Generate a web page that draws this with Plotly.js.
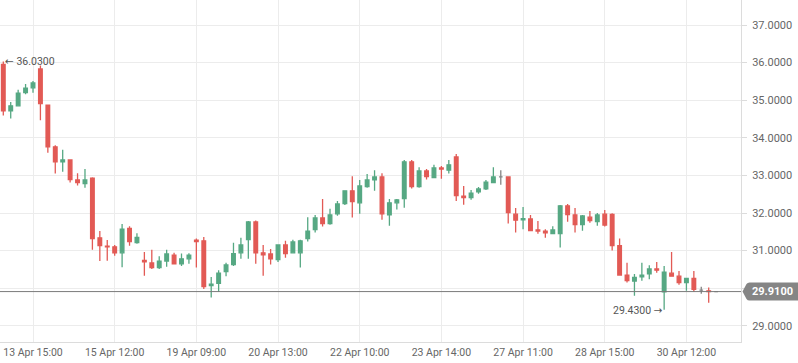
<!DOCTYPE html>
<html><head><meta charset="utf-8">
<script src="https://cdn.plot.ly/plotly-3.0.1.min.js"></script>
<style>html,body{margin:0;padding:0;background:#fff}#chart{width:798px;height:363px}</style>
</head><body><div id="chart"></div>
<script>
const opens =[35.95,34.72,34.85,35.20,35.33,35.83,34.87,33.76,33.36,33.41,32.88,32.78,32.93,31.34,31.12,31.10,30.94,31.59,31.21,30.74,30.67,30.55,30.72,30.88,30.65,30.78,31.28,31.26,30.07,30.13,30.44,30.63,30.94,31.29,31.76,30.94,30.91,30.76,31.15,30.94,30.94,31.32,31.56,31.87,31.72,31.98,32.25,32.59,32.27,32.70,32.88,32.96,31.95,32.27,32.38,33.36,32.70,33.12,32.94,33.20,33.14,33.49,32.45,32.41,32.56,32.64,32.81,32.96,32.96,31.97,31.82,31.84,31.55,31.52,31.45,31.45,32.19,31.95,31.69,31.89,31.77,31.97,31.96,31.13,30.35,30.19,30.30,30.38,30.51,29.90,30.40,30.32,30.15,30.26,29.95,29.93,29.91];
const highs =[36.03,34.95,35.28,35.43,35.51,35.92,34.88,33.80,33.68,33.42,33.06,33.17,32.95,31.52,31.28,31.15,31.71,31.65,31.46,30.96,31.02,30.85,31.02,30.94,30.92,30.93,31.32,31.36,30.30,30.48,30.68,31.21,31.34,31.79,31.80,31.15,31.04,31.17,31.26,31.29,31.29,31.89,31.95,32.37,32.11,32.32,32.60,32.98,32.88,33.04,33.14,33.06,32.37,32.37,33.41,33.41,33.22,33.17,33.28,33.25,33.41,33.57,32.72,32.61,32.69,32.88,33.22,33.14,32.97,32.13,32.16,31.95,31.79,31.57,31.65,32.21,32.24,32.13,31.95,32.05,32.00,32.08,31.99,31.32,30.68,30.38,30.68,30.61,30.70,30.59,30.96,30.46,30.27,30.46,30.04,30.02,29.91];
const lows  =[34.59,34.51,34.84,35.16,35.20,34.47,33.60,33.05,33.10,32.81,32.73,32.67,31.02,30.72,30.73,30.86,30.56,31.13,31.18,30.33,30.51,30.51,30.57,30.64,30.59,30.65,30.55,29.98,29.75,29.90,30.32,30.59,30.78,30.78,30.65,30.33,30.63,30.70,30.81,30.93,30.55,31.24,31.48,31.64,31.69,31.93,32.21,31.88,31.98,32.67,32.59,31.82,31.66,32.09,32.14,32.65,32.67,32.89,32.93,32.91,33.05,32.32,32.22,32.35,32.51,32.61,32.80,32.75,31.72,31.48,31.57,31.52,31.45,31.34,31.44,31.08,31.77,31.48,31.53,31.74,31.66,31.64,31.00,30.34,30.15,29.80,30.20,30.24,30.41,29.43,30.31,30.09,29.93,29.90,29.85,29.61,29.91];
const closes=[34.72,34.85,35.19,35.32,35.46,34.91,33.76,33.36,33.41,32.89,32.81,32.88,31.32,31.13,31.10,30.94,31.57,31.24,31.35,30.70,30.55,30.72,30.91,30.65,30.78,30.88,31.24,30.04,30.11,30.40,30.62,30.92,31.15,31.76,30.94,30.89,30.78,31.15,30.92,31.23,31.26,31.52,31.87,31.72,31.95,32.24,32.59,32.30,32.72,32.88,32.96,31.98,32.27,32.35,33.36,32.70,33.12,32.97,33.20,33.17,33.28,32.46,32.41,32.53,32.64,32.82,32.96,32.96,32.01,31.81,31.85,31.53,31.52,31.47,31.55,32.19,31.96,31.69,31.92,31.80,31.95,31.68,31.13,30.35,30.20,30.29,30.35,30.51,30.48,30.43,30.32,30.15,30.26,29.97,29.95,29.91,29.91];

const tickIdx   =[4,15,26,37,48,59,70,81,92];
const tickLabels=['13 Apr 15:00','15 Apr 12:00','19 Apr 09:00','20 Apr 13:00','22 Apr 10:00','23 Apr 14:00','27 Apr 11:00','28 Apr 15:00','30 Apr 12:00'];
const yTicks    =[29,30,31,32,33,34,35,36,37];

const GREEN='#56a883', RED='#e25a55', GREY='#858585', TXT='#666666', GRID='#ececec';
const idx = opens.map((_,i)=>i);
const isDoji = i => opens[i]===closes[i];
const sel = (arr,f)=>idx.filter(f).map(i=>arr[i]);
const notD = i=>!isDoji(i);

const main = {type:'candlestick', x:idx.filter(notD), open:sel(opens,notD), high:sel(highs,notD), low:sel(lows,notD), close:sel(closes,notD),
  increasing:{line:{color:GREEN,width:1.3},fillcolor:GREEN}, decreasing:{line:{color:RED,width:1.3},fillcolor:RED}, hoverinfo:'none', showlegend:false};
const doji = {type:'candlestick', x:idx.filter(isDoji), open:sel(opens,isDoji), high:sel(highs,isDoji), low:sel(lows,isDoji), close:sel(closes,isDoji),
  increasing:{line:{color:GREY,width:1.3},fillcolor:GREY}, decreasing:{line:{color:GREY,width:1.3},fillcolor:GREY}, hoverinfo:'none', showlegend:false};

const maxH = Math.max(...highs), iMax = highs.indexOf(maxH);
const minL = Math.min(...lows),  iMin = lows.indexOf(minL);
const last = closes[closes.length-1];
const font = {family:'Roboto, sans-serif', size:11, color:TXT};
const xfont = {family:'Roboto, sans-serif', size:10.5, color:TXT};
const afont = {family:'Roboto, sans-serif', size:10.5, color:'#555'};

const layout = {
  width:798, height:363, margin:{l:0,r:57,t:0,b:21},
  paper_bgcolor:'#fff', plot_bgcolor:'#fff', showlegend:false, font:font,
  xaxis:{type:'linear', range:[-0.444,99.35], tickmode:'array', tickvals:tickIdx, ticktext:tickLabels,
    showgrid:true, gridcolor:GRID, gridwidth:1, showline:true, linecolor:'#dcdcdc', linewidth:1,
    zeroline:false, ticks:'', tickfont:xfont, rangeslider:{visible:false}, fixedrange:true},
  yaxis:{side:'right', range:[28.569,37.665], tickmode:'array', tickvals:yTicks,
    ticktext:yTicks.map(v=>v===30?'':v.toFixed(4)),
    showgrid:true, gridcolor:GRID, gridwidth:1, showline:true, linecolor:'#dcdcdc', linewidth:1,
    zeroline:false, ticks:'outside', ticklen:5, tickcolor:'#dcdcdc', tickfont:font, ticklabelstandoff:3, fixedrange:true},
  shapes:[
    {type:'line', xref:'paper', yref:'y', x0:0, x1:1, y0:last, y1:last, line:{color:'#7a7a7a', width:1}},
    {type:'path', xref:'paper', yref:'y', xsizemode:'pixel', xanchor:1, ysizemode:'pixel', yanchor:last,
     path:'M1.5,0 L5.5,-7.5 Q6.5,-9 8.5,-9 L58,-9 L58,9 L8.5,9 Q6.5,9 5.5,7.5 Z', fillcolor:'#858585', line:{width:0}}
  ],
  annotations:[
    {x:iMax, y:maxH, xref:'x', yref:'y', text:'<span style="font-family:DejaVu Sans">←</span> '+maxH.toFixed(4), showarrow:false, xanchor:'left', yanchor:'middle', xshift:0, font:afont},
    {x:iMin, y:minL, xref:'x', yref:'y', text:minL.toFixed(4)+' <span style="font-family:DejaVu Sans">→</span>', showarrow:false, xanchor:'right', yanchor:'middle', xshift:1, yshift:-1, font:afont},
    {x:1, y:last, xref:'paper', yref:'y', text:'<b>'+last.toFixed(4)+'</b>', showarrow:false, xanchor:'left', yanchor:'middle', xshift:9, font:{family:'Roboto, sans-serif', size:11, color:'#fff'}}
  ]
};
Plotly.newPlot('chart',[main,doji],layout,{displayModeBar:false,staticPlot:true});
</script></body></html>
